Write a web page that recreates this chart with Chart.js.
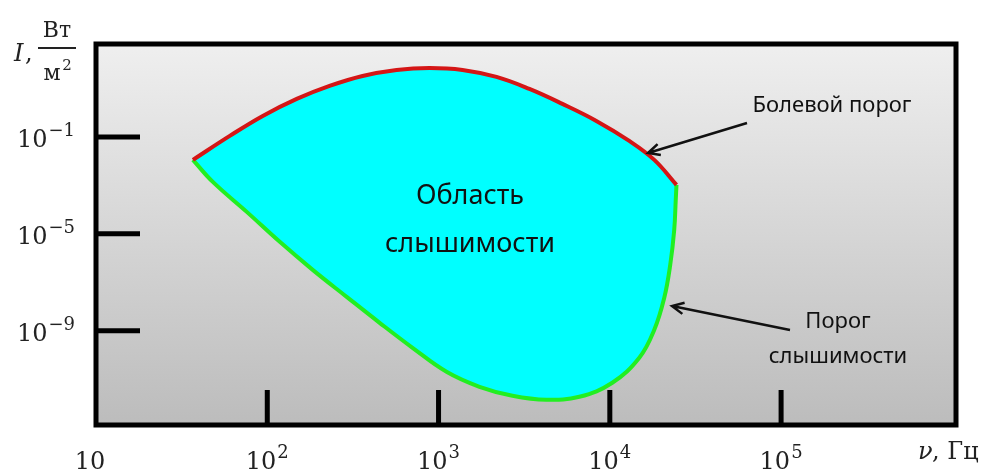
<!DOCTYPE html>
<html>
<head>
<meta charset="utf-8">
<script src="https://cdn.jsdelivr.net/npm/chart.js@4"></script>
<style>
  html, body { margin: 0; padding: 0; background: #fff; }
  #wrap { width: 992px; height: 474px; }
</style>
</head>
<body>
<div id="wrap"><canvas id="c"></canvas></div>
<script>
// Pain threshold (upper curve), Hz -> W/m2
var painFreq  = [36.8, 60.4, 94.1, 148.6, 231, 360, 569, 886, 1380, 2179, 3393, 5285, 8343, 12990, 18180, 24500];
var painLevel = [1.13e-2, 0.110, 0.734, 3.69, 12.7, 32.7, 58, 70, 58, 29.8, 9.52, 2.30, 0.457, 0.0684, 0.0113, 1.05e-3];
// Hearing threshold (lower curve)
var hearFreq  = [36.8, 48.1, 75.9, 118.3, 184.2, 290.8, 453, 705, 1113, 1734, 2701, 4263, 6641, 10340, 14860, 18180, 20790, 22530, 23770, 24260, 24500];
var hearLevel = [1.13e-2, 1.39e-3, 8.07e-5, 4.68e-6, 3.27e-7, 2.52e-8, 2.14e-9, 1.99e-10, 2.04e-11, 4.91e-12, 2.09e-12, 1.43e-12, 1.90e-12, 7.18e-12, 7.71e-11, 1.10e-9, 2.30e-8, 5.27e-7, 1.46e-5, 2.52e-4, 1.05e-3];

var xTicks      = [10, 100, 1000, 10000, 100000];
var xTickExp    = ['', '2', '3', '4', '5'];
var yTicks      = [1e-1, 1e-5, 1e-9];
var yTickExp    = ['−1', '−5', '−9'];

function toPoints(xs, ys) {
  return xs.map(function (x, i) { return { x: x, y: ys[i] }; });
}

function arrow(ctx, x1, y1, x2, y2) {
  var a = Math.atan2(y2 - y1, x2 - x1), len = 13, sp = 0.45;
  ctx.beginPath();
  ctx.moveTo(x1, y1);
  ctx.lineTo(x2, y2);
  ctx.moveTo(x2 - len * Math.cos(a - sp), y2 - len * Math.sin(a - sp));
  ctx.lineTo(x2, y2);
  ctx.lineTo(x2 - len * Math.cos(a + sp), y2 - len * Math.sin(a + sp));
  ctx.stroke();
}

// "10" with a raised exponent; align: 'right' or 'center'
var BASE_FONT = '24px "DejaVu Serif"', SUP_FONT = '18px "DejaVu Serif"';
function power(ctx, exp, x, y, align) {
  ctx.font = BASE_FONT;
  var wb = ctx.measureText('10').width;
  ctx.font = SUP_FONT;
  var ws = exp ? ctx.measureText(exp).width + 1 : 0;
  var w = wb + ws;
  var x0 = align === 'right' ? x - w : x - w / 2;
  ctx.textAlign = 'left';
  ctx.font = BASE_FONT;
  ctx.fillText('10', x0, y);
  if (exp) {
    ctx.font = SUP_FONT;
    ctx.fillText(exp, x0 + wb + 1, y - 11);
  }
}

var decor = {
  id: 'decor',
  beforeDraw: function (chart) {
    var ctx = chart.ctx, a = chart.chartArea;
    var g = ctx.createLinearGradient(0, a.top, 0, a.bottom);
    g.addColorStop(0, '#efefef');
    g.addColorStop(1, '#bcbcbc');
    ctx.save();
    ctx.fillStyle = g;
    ctx.fillRect(a.left, a.top, a.right - a.left, a.bottom - a.top);
    ctx.restore();
  },
  afterDraw: function (chart) {
    var ctx = chart.ctx, a = chart.chartArea;
    var xs = chart.scales.x, ys = chart.scales.y;
    ctx.save();
    // frame
    ctx.strokeStyle = '#000';
    ctx.lineWidth = 5;
    ctx.strokeRect(a.left, a.top, a.right - a.left, a.bottom - a.top);
    // inward tick marks
    ctx.beginPath();
    yTicks.forEach(function (v) {
      var py = ys.getPixelForValue(v);
      ctx.moveTo(a.left, py); ctx.lineTo(a.left + 44, py);
    });
    xTicks.slice(1).forEach(function (v) {
      var px = xs.getPixelForValue(v);
      ctx.moveTo(px, a.bottom); ctx.lineTo(px, a.bottom - 35);
    });
    ctx.stroke();

    // tick labels
    ctx.fillStyle = '#222';
    ctx.textBaseline = 'alphabetic';
    yTicks.forEach(function (v, i) {
      power(ctx, yTickExp[i], 75, ys.getPixelForValue(v) + 10, 'right');
    });
    xTicks.forEach(function (v, i) {
      power(ctx, xTickExp[i], xs.getPixelForValue(v) - (i === 0 ? 6 : 0), 469, 'center');
    });

    // axis titles
    ctx.textAlign = 'left';
    ctx.font = 'italic 24px "DejaVu Serif"';
    ctx.fillText('I', 14, 61);
    ctx.font = '24px "DejaVu Serif"';
    ctx.fillText(',', 25, 61);
    ctx.textAlign = 'center';
    ctx.font = '22px "DejaVu Serif"';
    ctx.fillText('Вт', 57, 37);
    ctx.fillText('м', 52, 80);
    ctx.font = '15px "DejaVu Serif"';
    ctx.fillText('2', 67, 70);
    ctx.lineWidth = 2;
    ctx.strokeStyle = '#222';
    ctx.beginPath(); ctx.moveTo(38, 48); ctx.lineTo(76, 48); ctx.stroke();

    ctx.textAlign = 'left';
    ctx.font = 'italic 24px "DejaVu Serif"';
    ctx.fillText('ν', 918, 459);
    ctx.font = '24px "DejaVu Serif"';
    ctx.fillText(', Гц', 932, 459);

    // annotations
    ctx.fillStyle = '#111';
    ctx.textAlign = 'center';
    ctx.font = '27px "Noto Sans"';
    ctx.fillText('Область', 470, 204, 130);
    ctx.fillText('слышимости', 470, 252, 202);
    ctx.font = '22px "Noto Sans"';
    ctx.fillText('Болевой порог', 832, 112, 182);
    ctx.fillText('Порог', 838, 328, 78);
    ctx.fillText('слышимости', 838, 363, 158);

    ctx.strokeStyle = '#111';
    ctx.lineWidth = 2.5;
    arrow(ctx, 747, 123, 648, 153);
    arrow(ctx, 790, 330, 672, 306);
    ctx.restore();
  }
};

new Chart(document.getElementById('c'), {
  type: 'scatter',
  data: {
    datasets: [
      {
        label: 'Болевой порог',
        data: toPoints(painFreq, painLevel),
        showLine: true,
        borderColor: '#d41616',
        borderWidth: 4,
        pointRadius: 0,
        tension: 0.4,
        fill: { target: 1, above: '#00ffff', below: '#00ffff' }
      },
      {
        label: 'Порог слышимости',
        data: toPoints(hearFreq, hearLevel),
        showLine: true,
        borderColor: '#22ee22',
        borderWidth: 4,
        pointRadius: 0,
        tension: 0.4,
        fill: false
      }
    ]
  },
  options: {
    responsive: true,
    maintainAspectRatio: false,
    animation: false,
    layout: { padding: { top: 44, right: 36, left: 0, bottom: 0 } },
    plugins: {
      legend: { display: false },
      tooltip: { enabled: false },
      filler: { drawTime: 'beforeDatasetsDraw' }
    },
    scales: {
      x: {
        type: 'logarithmic',
        min: 10,
        max: 1.05e6,
        afterFit: function (s) { s.height = 49; },
        afterBuildTicks: function (s) { s.ticks = xTicks.map(function (v) { return { value: v }; }); },
        grid: { display: false },
        border: { display: false },
        ticks: { display: false }
      },
      y: {
        type: 'logarithmic',
        min: 1.3e-13,
        max: 680,
        afterFit: function (s) { s.width = 96; },
        afterBuildTicks: function (s) { s.ticks = yTicks.map(function (v) { return { value: v }; }); },
        grid: { display: false },
        border: { display: false },
        ticks: { display: false }
      }
    }
  },
  plugins: [decor]
});
</script>
</body>
</html>
